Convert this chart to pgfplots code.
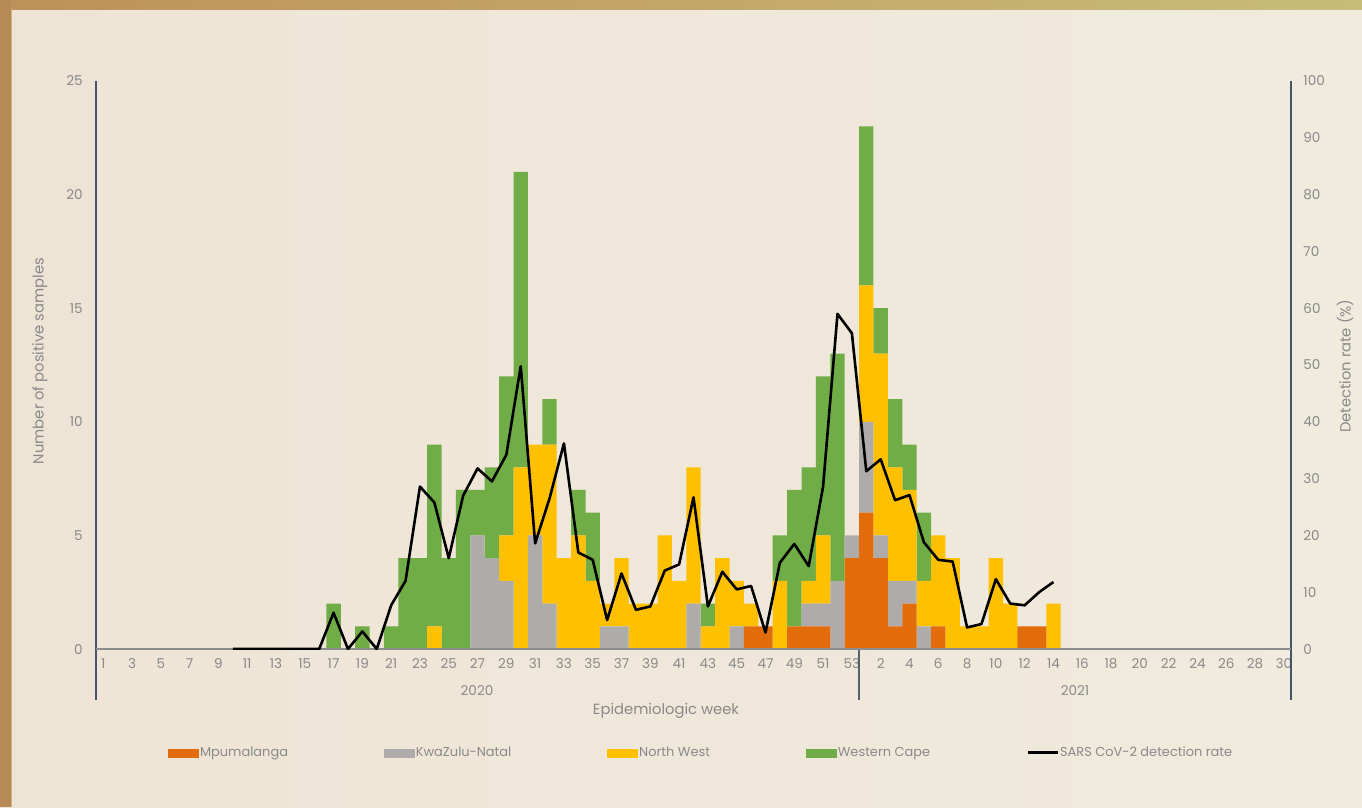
\documentclass[border=0pt]{standalone}
\usepackage{fontspec}
\setmainfont{Poppins}
\usepackage{pgfplots}
\usepackage{pgfplotstable}
\pgfplotsset{compat=1.18}

\definecolor{mpcol}{RGB}{227,108,10}
\definecolor{kzncol}{RGB}{175,171,171}
\definecolor{nwcol}{RGB}{255,192,0}
\definecolor{wccol}{RGB}{112,173,71}
\definecolor{bgl}{RGB}{238,228,214}
\definecolor{bgr}{RGB}{240,235,221}
\definecolor{txtgray}{RGB}{137,137,137}
\definecolor{axslate}{RGB}{68,84,106}
\definecolor{framel}{RGB}{190,145,90}
\definecolor{framer}{RGB}{200,188,122}

% x = week index (2020 wk1 = 0 ... 2020 wk53 = 52, 2021 wk1 = 53 ...)
\pgfplotstableread{
x  mp kzn nw wc
16 0 0 0 2
17 0 0 0 0
18 0 0 0 1
19 0 0 0 0
20 0 0 0 1
21 0 0 0 4
22 0 0 0 4
23 0 0 1 8
24 0 0 0 4
25 0 0 0 7
26 0 5 0 2
27 0 4 0 4
28 0 3 2 7
29 0 0 8 13
30 0 5 4 0
31 0 2 7 2
32 0 0 4 0
33 0 0 5 2
34 0 0 3 3
35 0 1 1 0
36 0 1 3 0
37 0 0 2 0
38 0 0 2 0
39 0 0 5 0
40 0 0 3 0
41 0 2 6 0
42 0 0 1 1
43 0 0 4 0
44 0 1 2 0
45 1 0 1 0
46 1 0 0 0
47 0 0 3 2
48 1 0 0 6
49 1 1 1 5
50 1 1 3 7
51 0 3 0 10
52 4 1 0 0
53 6 4 6 7
54 4 1 8 2
55 1 2 5 3
56 2 1 4 2
57 0 1 2 3
58 1 0 4 0
59 0 0 4 0
60 0 0 1 0
61 0 0 1 0
62 0 0 4 0
63 0 0 2 0
64 1 0 0 0
65 1 0 0 0
66 0 0 2 0
}\samples

\pgfplotstableread{
x  rate
9  0
10 0
11 0
12 0
13 0
14 0
15 0
16 6.4
17 0
18 3.1
19 0
20 7.7
21 12.0
22 28.6
23 25.8
24 16.0
25 27.0
26 31.8
27 29.5
28 34.2
29 49.8
30 18.6
31 26.5
32 36.2
33 17.0
34 15.7
35 5.1
36 13.3
37 6.9
38 7.5
39 13.8
40 14.9
41 26.7
42 7.5
43 13.6
44 10.5
45 11.1
46 2.9
47 15.2
48 18.5
49 14.6
50 28.6
51 59.0
52 55.6
53 31.3
54 33.4
55 26.2
56 27.1
57 18.8
58 15.7
59 15.4
60 3.8
61 4.4
62 12.3
63 8.0
64 7.7
65 10.0
66 11.8
}\rate

\pgfplotsset{
  base/.style={
    at={(48bp,-324.5bp)}, anchor=south west,
    scale only axis, width=597.5bp, height=284bp,
    xmin=-0.5, xmax=82.5,
    axis line style={draw=none},
    major tick length=0pt,
    tick style={draw=none},
    tick label style={font=\fontsize{6.8}{8}\selectfont, text=txtgray},
    /pgf/number format/assume math mode=true,
  },
}

\begin{document}
\begin{tikzpicture}[x=0.5bp,y=-0.5bp]
\useasboundingbox (0,0) rectangle (1362,807);
\shade[left color=bgl, right color=bgr] (0,0) rectangle (1362,807);
\shade[left color=framel, right color=framer] (0,0) rectangle (1362,9);
\fill[framel!95!black] (0,0) rectangle (11,807);
\fill[framel!70!white] (11,9) rectangle (12,807);

\begin{axis}[base,
    ymin=0, ymax=25,
    ytick={0,5,...,25},
    xtick={0,2,...,82},
    xticklabels={1,3,5,7,9,11,13,15,17,19,21,23,25,27,29,31,33,35,37,39,41,43,45,47,49,51,53,2,4,6,8,10,12,14,16,18,20,22,24,26,28,30},
    yticklabel style={inner sep=0pt, anchor=east, xshift=-6.5bp},
    xticklabel style={inner sep=0pt, anchor=north, yshift=-4.5bp},
    ybar stacked, bar width=1,
]
\addplot[fill=mpcol, draw=none] table[x=x, y=mp] {\samples};
\addplot[fill=kzncol, draw=none] table[x=x, y=kzn] {\samples};
\addplot[fill=nwcol, draw=none] table[x=x, y=nw] {\samples};
\addplot[fill=wccol, draw=none] table[x=x, y=wc] {\samples};
\end{axis}

% axis lines and multi-level category frame
\draw[axslate, line width=0.6bp] (96,81) -- (96,700);
\draw[axslate, line width=0.6bp] (1291,81) -- (1291,700);
\draw[axslate!70!gray, line width=0.6bp] (859,649) -- (859,700);
\draw[gray!90, line width=1bp] (96,649) -- (1291,649);

\begin{axis}[base,
    ymin=0, ymax=100,
    axis x line=none, axis y line*=right,
    axis line style={draw=none},
    ytick={0,10,...,100},
    yticklabel style={inner sep=0pt, anchor=west, xshift=6bp},
    legend columns=5,
    legend style={at={(0.506,-0.183)}, anchor=center, draw=none, fill=none,
      font=\fontsize{6.5}{8}\selectfont, text=txtgray,
      nodes={inner xsep=0.5bp, inner ysep=1bp},
      /tikz/every even column/.append style={column sep=47.5bp}},
]
\addlegendimage{legend image code/.code={\fill[mpcol] (0bp,-2bp) rectangle (15bp,2bp);}}
\addlegendentry{Mpumalanga}
\addlegendimage{legend image code/.code={\fill[kzncol] (0bp,-2bp) rectangle (15bp,2bp);}}
\addlegendentry{KwaZulu-Natal}
\addlegendimage{legend image code/.code={\fill[nwcol] (0bp,-2bp) rectangle (15bp,2bp);}}
\addlegendentry{North West}
\addlegendimage{legend image code/.code={\fill[wccol] (0bp,-2bp) rectangle (15bp,2bp);}}
\addlegendentry{Western Cape}
\addplot[black, line width=1.3bp, line join=round,
  legend image code/.code={\draw[black, line width=1.5bp] (0bp,0bp) -- (15bp,0bp);}]
  table[x=x, y=rate] {\rate};
\addlegendentry{SARS CoV-2 detection rate}
\end{axis}

\node[txtgray, font=\fontsize{6.8}{8}\selectfont] at (477,691) {2020};
\node[txtgray, font=\fontsize{6.8}{8}\selectfont] at (1075,691) {2021};
\node[txtgray, font=\fontsize{7.4}{9}\selectfont] at (666,711) {Epidemiologic week};
\node[txtgray, font=\fontsize{7.4}{9}\selectfont, rotate=90] at (40,361) {Number of positive samples};
\node[txtgray, font=\fontsize{7.4}{9}\selectfont, rotate=90] at (1345,366) {Detection rate (\%)};
\end{tikzpicture}
\end{document}
